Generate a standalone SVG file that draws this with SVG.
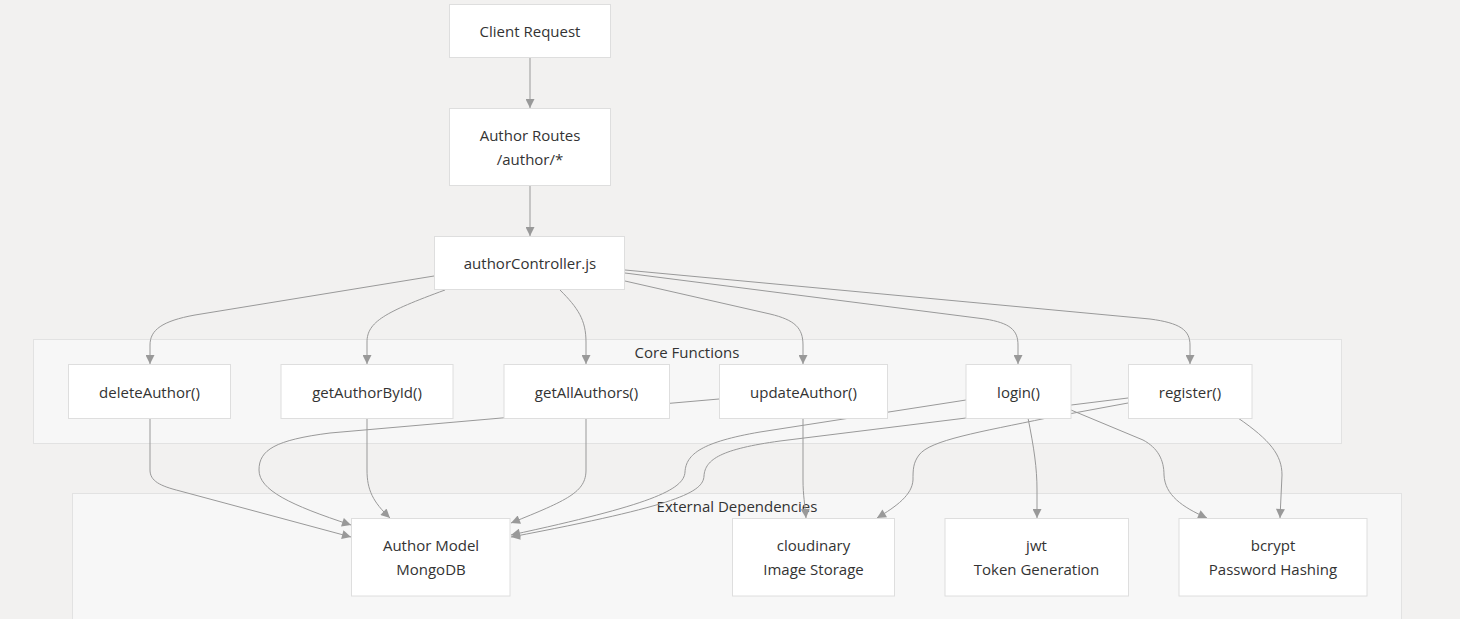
<svg xmlns="http://www.w3.org/2000/svg" width="1460" height="619" viewBox="0 0 1460 619">
<defs>
<marker id="arr" viewBox="0 0 10 10" refX="10" refY="5" markerWidth="10" markerHeight="9" markerUnits="userSpaceOnUse" orient="auto">
<path d="M0,0 L10,5 L0,10 z" fill="#999"/>
</marker>
<style>
.bg{fill:#f2f1f0}
.cluster{fill:#f7f7f7;stroke:#e2e2e2;stroke-width:1}
.node rect{fill:#fff;stroke:#dedede;stroke-width:1}
text{font-family:"Open Sans","Liberation Sans",sans-serif;font-size:15px;fill:#333;text-anchor:middle;dominant-baseline:central}
.edges path{fill:none;stroke:#999;stroke-width:1;marker-end:url(#arr)}
</style>
</defs>
<rect class="bg" x="0" y="0" width="1460" height="619"/>
<g id="cluster-core">
<rect class="cluster" x="33.5" y="339.5" width="1308" height="104"/>
<text x="687" y="352">Core Functions</text>
</g>
<g id="cluster-external">
<rect class="cluster" x="72.5" y="493.5" width="1329" height="140"/>
<text x="737" y="506">External Dependencies</text>
</g>
<g class="edges" id="connectors">
<path d="M530,57 L530,108"/>
<path d="M530,185 L530,236"/>
<path d="M434,276 L195,315 C162,321 150,330 150,345 L150,364"/>
<path d="M445,290 C385,312 367,322 367,342 L367,364"/>
<path d="M560,290 C578,308 586,320 586,342 L586,364"/>
<path d="M625,281 L770,314 C795,320 803,328 803,345 L803,364"/>
<path d="M625,273 L985,319 C1010,323 1018,330 1018,345 L1018,364"/>
<path d="M625,270 L1150,319 C1180,323 1190,330 1190,345 L1190,364"/>
<path d="M150,418 L150,470 C150,481 160,486 180,491 L351,537"/>
<path d="M367,418 L367,470 C367,490 373,502 390,518"/>
<path d="M586,418 L586,470 C586,492 568,500 511,523"/>
<path d="M719,399 L330,433 C275,440 259,450 259,470 C259,490 290,505 351,525"/>
<path d="M966,400 L760,432 C702,442 686,454 685,472 C684,490 650,505 511,535"/>
<path d="M1128,398 L780,441 C722,449 705,459 704,476 C703,492 680,505 511,537"/>
<path d="M803,418 L803,480 C803,495 805,505 806,518"/>
<path d="M1128,403 L1047,418 C980,432 930,440 919,455 C913,463 913,470 913,480 C912,495 897,506 877,518"/>
<path d="M1028,418 C1034,448 1037,468 1037,490 L1037,518"/>
<path d="M1071,410 L1143,440 C1158,448 1164,460 1164,475 C1165,495 1182,507 1207,518"/>
<path d="M1238,418 C1270,440 1282,455 1282,475 L1280,518"/>
</g>
<g id="client" class="node"><rect x="449.5" y="4.5" width="161" height="53"/><text x="530" y="31">Client Request</text></g>
<g id="routes" class="node"><rect x="449.5" y="108.5" width="161" height="77"/><text x="530" y="135">Author Routes</text><text x="530" y="159">/author/*</text></g>
<g id="controller" class="node"><rect x="434.5" y="236.5" width="190" height="53"/><text x="530" y="263">authorController.js</text></g>
<g id="deleteAuthor" class="node"><rect x="68.5" y="364.5" width="162" height="54"/><text x="149.5" y="391.5">deleteAuthor()</text></g>
<g id="getAuthorById" class="node"><rect x="281" y="364.5" width="172" height="54"/><text x="367" y="391.5">getAuthorById()</text></g>
<g id="getAllAuthors" class="node"><rect x="504" y="364.5" width="165.5" height="54"/><text x="586.5" y="391.5">getAllAuthors()</text></g>
<g id="updateAuthor" class="node"><rect x="719.5" y="364.5" width="168" height="54"/><text x="803.5" y="391.5">updateAuthor()</text></g>
<g id="login" class="node"><rect x="966" y="364.5" width="105" height="54"/><text x="1018.5" y="391.5">login()</text></g>
<g id="register" class="node"><rect x="1128.5" y="364.5" width="123.5" height="54"/><text x="1190" y="391.5">register()</text></g>
<g id="authorModel" class="node"><rect x="351.5" y="518.5" width="158.5" height="77.5"/><text x="431" y="545">Author Model</text><text x="431" y="569">MongoDB</text></g>
<g id="cloudinary" class="node"><rect x="732.5" y="518.5" width="162" height="77.5"/><text x="813.5" y="545">cloudinary</text><text x="813.5" y="569">Image Storage</text></g>
<g id="jwt" class="node"><rect x="945" y="518.5" width="183.5" height="77.5"/><text x="1036.5" y="545">jwt</text><text x="1036.5" y="569">Token Generation</text></g>
<g id="bcrypt" class="node"><rect x="1179" y="518.5" width="188" height="77.5"/><text x="1273" y="545">bcrypt</text><text x="1273" y="569">Password Hashing</text></g>
</svg>
